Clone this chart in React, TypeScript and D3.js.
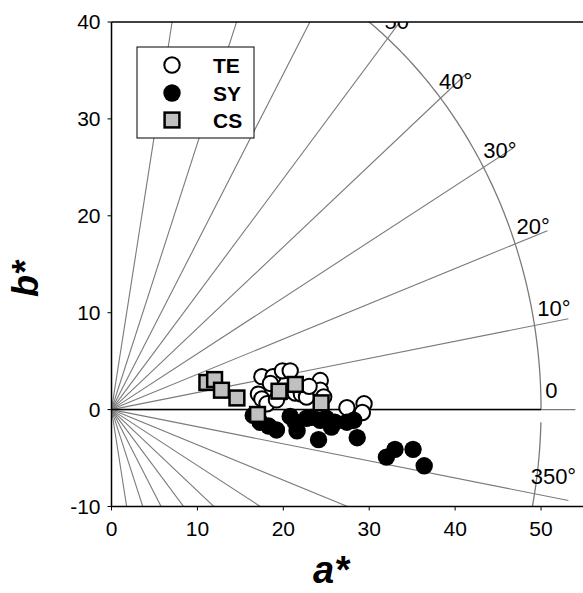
import * as d3 from "d3";

const width = 583;
const height = 593;

// TE (open circles)
const teA = [17.5, 18.8, 19.9, 20.8, 18.5, 17.1, 17.5, 18.1, 20.0, 21.4, 22.1, 22.7, 24.3, 24.3, 24.7, 27.4, 29.4, 29.2, 19.2, 23.0];
const teB = [3.4, 3.4, 4.0, 4.0, 2.7, 1.6, 1.1, 0.6, 1.8, 1.7, 1.6, 1.3, 3.0, 2.0, 1.3, 0.2, 0.6, -0.3, 1.0, 2.4];
// SY (filled circles)
const syA = [16.5, 17.3, 18.3, 19.2, 20.8, 21.4, 21.6, 22.7, 23.3, 24.3, 25.0, 26.0, 27.4, 28.2, 24.1, 28.6, 32.0, 33.0, 35.1, 36.4, 25.6];
const syB = [-0.6, -1.3, -1.7, -2.1, -0.7, -1.3, -2.2, -0.9, -0.8, -1.1, -0.9, -1.3, -1.3, -1.1, -3.1, -2.9, -4.9, -4.1, -4.1, -5.8, -1.8];
// CS (grey squares)
const csA = [11.1, 12.0, 12.8, 14.6, 17.0, 19.5, 21.4, 24.4];
const csB = [2.8, 3.1, 2.0, 1.2, -0.5, 1.9, 2.6, 0.7];

const xTicks = [0, 10, 20, 30, 40, 50];
const yTicks = [-10, 0, 10, 20, 30, 40];
const hueLines = [-80, -70, -60, -50, -40, -30, -20, -10, 0, 10, 20, 30, 40, 50, 60, 70, 80, 90];
const hueLabels = ["0", "10°", "20°", "30°", "40°", "50°", "350°"];
const hueLabelAngles = [0, 10, 20, 30, 40, 50, -10];

const x = d3.scaleLinear().domain([0, 55]).range([111.5, 584]);
const y = d3.scaleLinear().domain([-10, 40]).range([506.5, 22]);

const rad = (deg: number) => (deg * Math.PI) / 180;
const polar = (r: number, deg: number): [number, number] => [
  x(r * Math.cos(rad(deg))),
  y(r * Math.sin(rad(deg))),
];

const line = d3.line();
const arcPath = (from: number, to: number) =>
  line(d3.range(from, to + 0.01, 0.5).map((d) => polar(50, d)));

const font = "'Liberation Sans', Arial, sans-serif";
const grey = "#7a7a7a";

const App = () => {
  const [x0, x1] = x.range();
  const [y0, y1] = y.range();
  return (
    <svg
      width={width}
      height={height}
      style={{ position: "absolute", left: 0, top: 0, background: "#fff" }}
      fontFamily={font}
    >
      <defs>
        <clipPath id="plot">
          <rect x={x0} y={y1} width={x1 - x0} height={y0 - y1} />
        </clipPath>
      </defs>
      <g clipPath="url(#plot)">
        {hueLines.map((h) => {
          const [ex, ey] = polar(54, h);
          return <line key={h} x1={x(0)} y1={y(0)} x2={ex} y2={ey} stroke={grey} strokeWidth={1.1} />;
        })}
        <path d={arcPath(0, 90) || ""} fill="none" stroke={grey} strokeWidth={1.3} />
        <path d={arcPath(-11.5, -1.1) || ""} fill="none" stroke={grey} strokeWidth={1.3} />
        <line x1={x(0)} x2={x(50)} y1={y(0)} y2={y(0)} stroke="#000" strokeWidth={1.5} />
        {hueLabels.map((t, i) => {
          const a = hueLabelAngles[i];
          const [lx, ly] = polar(a < 0 ? 49.4 : 50.5, a + (a === 0 ? 1.4 : 1));
          return (
            <text key={t} x={lx} y={ly} fontSize={22} fill="#000">
              {t}
            </text>
          );
        })}
      </g>

      {/* frame */}
      <line x1={x0} x2={x1} y1={y1} y2={y1} stroke="#000" strokeWidth={1.5} />
      <line x1={x0} x2={x1} y1={y0} y2={y0} stroke="#000" strokeWidth={1.5} />
      <line x1={x0} x2={x0} y1={y1} y2={y0} stroke="#000" strokeWidth={1.5} />

      {xTicks.map((t) => (
        <g key={t}>
          <line x1={x(t)} x2={x(t)} y1={y0} y2={y0 + 4} stroke="#000" />
          <text x={x(t)} y={y0 + 29} textAnchor="middle" fontSize={21}>
            {t}
          </text>
        </g>
      ))}
      {yTicks.map((t) => (
        <g key={t}>
          <line x1={x0 - 4} x2={x0} y1={y(t)} y2={y(t)} stroke="#000" />
          <text x={x0 - 11} y={y(t)} dy="0.35em" textAnchor="end" fontSize={21}>
            {t}
          </text>
        </g>
      ))}

      {/* data */}
      {teA.map((a, i) => (
        <circle key={"te" + i} cx={x(a)} cy={y(teB[i])} r={7.7} fill="#fff" stroke="#000" strokeWidth={2} />
      ))}
      {syA.map((a, i) => (
        <circle key={"sy" + i} cx={x(a)} cy={y(syB[i])} r={8.7} fill="#000" />
      ))}
      {csA.map((a, i) => (
        <rect key={"cs" + i} x={x(a) - 7.4} y={y(csB[i]) - 7.4} width={14.8} height={14.8} fill="#c0c0c0" stroke="#000" strokeWidth={2.5} />
      ))}

      {/* legend */}
      <rect x={137} y={47} width={117} height={91} fill="#fff" stroke="#000" strokeWidth={1} />
      <circle cx={172} cy={65} r={7.7} fill="#fff" stroke="#000" strokeWidth={2} />
      <circle cx={172} cy={93} r={8.7} fill="#000" />
      <rect x={164.6} y={112.6} width={14.8} height={14.8} fill="#c0c0c0" stroke="#000" strokeWidth={2.5} />
      <text x={213} y={65} dy="0.36em" fontSize={21} fontWeight="bold">TE</text>
      <text x={213} y={93} dy="0.36em" fontSize={21} fontWeight="bold">SY</text>
      <text x={213} y={120} dy="0.36em" fontSize={21} fontWeight="bold">CS</text>

      {/* axis titles */}
      <text x={331} y={583} textAnchor="middle" fontSize={38} fontWeight="bold" fontStyle="italic">
        a*
      </text>
      <text
        transform="translate(38,279) rotate(-90)"
        textAnchor="middle"
        fontSize={36}
        fontWeight="bold"
        fontStyle="italic"
      >
        b*
      </text>
    </svg>
  );
};

export default App;
